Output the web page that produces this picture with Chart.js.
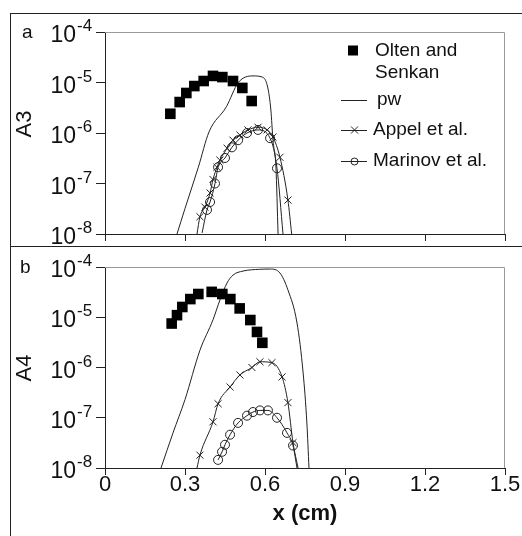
<!DOCTYPE html>
<html>
<head>
<meta charset="utf-8">
<script src="https://cdn.jsdelivr.net/npm/chart.js@4.4.1/dist/chart.umd.min.js"></script>
<style>
  html, body { margin: 0; padding: 0; background: #fff; }
  #frame { position: absolute; left: 10px; top: 13px; width: 511px; height: 523px;
           border-left: 1px solid #222; border-top: 1px solid #222; }
  #divider { position: absolute; left: 10px; top: 246px; width: 512px; height: 1px; background: #222; }
  .box { position: absolute; left: 11px; width: 511px; }
  #boxA { top: 14px; height: 232px; }
  #boxB { top: 247px; height: 289px; }
</style>
</head>
<body>
<div id="frame"></div>
<div id="divider"></div>
<div class="box" id="boxA"><canvas id="chartA"></canvas></div>
<div class="box" id="boxB"><canvas id="chartB"></canvas></div>
<script>
// panel a : A3
const xOltenA = [0.245, 0.28, 0.305, 0.335, 0.37, 0.405, 0.44, 0.48, 0.515, 0.55];
const yOltenA = [2.4e-6, 4.1e-6, 6.2e-6, 8.5e-6, 1.07e-5, 1.35e-5, 1.28e-5, 1.07e-5, 7.8e-6, 4.3e-6];
const xPwA = [0.27, 0.30, 0.35, 0.39, 0.455, 0.50, 0.555, 0.59, 0.61, 0.622, 0.63, 0.641, 0.649];
const yPwA = [1e-8, 3.2e-8, 2.1e-7, 1.05e-6, 3.3e-6, 1.0e-5, 1.35e-5, 1.28e-5, 8.1e-6, 2.85e-6, 7.2e-7, 2.1e-7, 1e-8];
const xAppelA = [0.345, 0.356, 0.375, 0.394, 0.405, 0.42, 0.431, 0.458, 0.48, 0.506, 0.536, 0.574, 0.608, 0.63, 0.656, 0.686, 0.70];
const yAppelA = [1e-8, 2.2e-8, 3.4e-8, 6.5e-8, 1.2e-7, 2.1e-7, 2.9e-7, 5.0e-7, 7.2e-7, 9.1e-7, 1.15e-6, 1.3e-6, 1.15e-6, 8.3e-7, 3.3e-7, 4.7e-8, 1e-8];
const xMarinovA = [0.364, 0.3825, 0.394, 0.4125, 0.424, 0.45, 0.476, 0.499, 0.5325, 0.574, 0.619, 0.645, 0.6675];
const yMarinovA = [1.05e-8, 3.0e-8, 4.3e-8, 1.0e-7, 2.1e-7, 3.2e-7, 5.2e-7, 7.2e-7, 1.0e-6, 1.15e-6, 7.9e-7, 2.0e-7, 1e-8];

// panel b : A4
const xOltenB = [0.25, 0.27, 0.29, 0.32, 0.35, 0.40, 0.44, 0.47, 0.505, 0.545, 0.57, 0.59];
const yOltenB = [7.5e-6, 1.1e-5, 1.6e-5, 2.3e-5, 2.9e-5, 3.2e-5, 2.9e-5, 2.3e-5, 1.5e-5, 8.8e-6, 5.1e-6, 3.1e-6];
const xPwB = [0.21, 0.255, 0.30, 0.356, 0.405, 0.431, 0.4575, 0.48, 0.5175, 0.58, 0.62, 0.656, 0.686, 0.72, 0.743, 0.757, 0.765];
const yPwB = [1e-8, 5e-8, 2.3e-7, 2.2e-6, 8.9e-6, 2.2e-5, 4.8e-5, 6.9e-5, 8.3e-5, 9e-5, 9.1e-5, 7.6e-5, 3.5e-5, 7.7e-6, 7.8e-7, 7.9e-8, 1e-8];
const xAppelB = [0.345, 0.356, 0.405, 0.424, 0.469, 0.506, 0.551, 0.581, 0.626, 0.664, 0.686, 0.705, 0.724];
const yAppelB = [1e-8, 1.8e-8, 8.3e-8, 1.9e-7, 4.1e-7, 7.1e-7, 1.0e-6, 1.3e-6, 1.25e-6, 6.5e-7, 2.0e-7, 3.2e-8, 1e-8];
const xMarinovB = [0.424, 0.439, 0.45, 0.469, 0.499, 0.5325, 0.555, 0.581, 0.611, 0.645, 0.6825, 0.705, 0.72];
const yMarinovB = [1.45e-8, 2.1e-8, 2.9e-8, 4.6e-8, 7.9e-8, 1.1e-7, 1.3e-7, 1.4e-7, 1.4e-7, 1.0e-7, 5e-8, 2.8e-8, 1e-8];

const yTicks = [1e-8, 1e-7, 1e-6, 1e-5, 1e-4];
const yExponents = ['-8', '-7', '-6', '-5', '-4'];
const xTicks = [0, 0.3, 0.6, 0.9, 1.2, 1.5];
const xTickLabels = ['0', '0.3', '0.6', '0.9', '1.2', '1.5'];
const seriesNames = ['Olten and Senkan', 'pw', 'Appel et al.', 'Marinov et al.'];
const legendLines = [['Olten and', 'Senkan'], ['pw'], ['Appel et al.'], ['Marinov et al.']];

const FONT = '"Liberation Sans", Arial, sans-serif';
const INK = '#222';
Chart.defaults.font.family = FONT;
Chart.defaults.color = '#111';

function pts(xs, ys) {
  return xs.map((x, i) => ({ x: x, y: ys[i] }));
}
// no marker where a curve runs into the axis
const edgeRadius = (r) => (c) => (c.raw && c.raw.y <= 1.05e-8 ? 0 : r);

function makeDatasets(xo, yo, xp, yp, xa, ya, xm, ym) {
  return [
    { label: seriesNames[0], data: pts(xo, yo), showLine: false, pointStyle: 'rect',
      pointRadius: 7.5, backgroundColor: '#000', borderWidth: 0 },
    { label: seriesNames[1], data: pts(xp, yp), showLine: true, borderColor: INK, borderWidth: 1,
      pointRadius: 0, cubicInterpolationMode: 'monotone' },
    { label: seriesNames[2], data: pts(xa, ya), showLine: true, borderColor: INK, borderWidth: 1,
      pointStyle: 'crossRot', pointRadius: edgeRadius(5), pointBorderWidth: 1,
      pointBorderColor: INK, cubicInterpolationMode: 'monotone' },
    { label: seriesNames[3], data: pts(xm, ym), showLine: true, borderColor: INK, borderWidth: 1,
      pointStyle: 'circle', pointRadius: edgeRadius(4.5), pointBorderWidth: 1,
      pointBorderColor: INK, pointBackgroundColor: 'rgba(0,0,0,0)', cubicInterpolationMode: 'monotone' }
  ];
}

const deco = {
  id: 'deco',
  beforeDatasetsDraw(chart) {
    const { ctx, chartArea: a } = chart;
    ctx.save();
    ctx.strokeStyle = '#9a9a9a';
    ctx.lineWidth = 1;
    ctx.beginPath();
    ctx.moveTo(a.left, a.top + 0.5);
    ctx.lineTo(a.right - 0.5, a.top + 0.5);
    ctx.lineTo(a.right - 0.5, a.bottom);
    ctx.stroke();
    ctx.restore();
  },
  afterDraw(chart, args, opts) {
    const ctx = chart.ctx;
    const ys = chart.scales.y;
    ctx.save();
    ctx.fillStyle = '#111';
    ctx.textBaseline = 'alphabetic';
    yTicks.forEach((v, i) => {
      const py = ys.getPixelForValue(v);
      ctx.font = '23px ' + FONT;
      ctx.textAlign = 'right';
      ctx.fillText('10', ys.right - 29, py + 10);
      ctx.font = '17px ' + FONT;
      ctx.textAlign = 'left';
      ctx.fillText(yExponents[i], ys.right - 28, py - 1);
    });
    // y title
    ctx.save();
    ctx.font = '22px ' + FONT;
    ctx.translate(14, opts.titleY);
    ctx.rotate(-Math.PI / 2);
    ctx.textAlign = 'center';
    ctx.textBaseline = 'middle';
    ctx.fillText(opts.yTitle, 0, 0);
    ctx.restore();
    // panel letter
    ctx.font = '19px ' + FONT;
    ctx.textAlign = 'left';
    ctx.fillText(opts.panel, opts.panelX, opts.panelY);

    if (opts.legend) {
      const rows = [36.5, 86, 116, 147];
      const ds = chart.data.datasets;
      ctx.font = '19px ' + FONT;
      ctx.textBaseline = 'middle';
      ctx.strokeStyle = INK;
      ctx.lineWidth = 1;
      rows.forEach((ry, i) => {
        const tx = i === 0 ? 364 : (i === 1 ? 366 : 362);
        legendLines[i].forEach((t, k) => ctx.fillText(t, tx, ry + k * 22));
        if (i === 0) {
          ctx.fillStyle = ds[0].backgroundColor;
          ctx.fillRect(337, ry - 5, 10, 10);
          ctx.fillStyle = '#111';
          return;
        }
        ctx.beginPath();
        ctx.moveTo(330, ry + 0.5);
        ctx.lineTo(356, ry + 0.5);
        ctx.stroke();
        if (i === 2) {
          ctx.beginPath();
          ctx.moveTo(340, ry - 3.5); ctx.lineTo(347, ry + 3.5);
          ctx.moveTo(347, ry - 3.5); ctx.lineTo(340, ry + 3.5);
          ctx.stroke();
        } else if (i === 3) {
          ctx.beginPath();
          ctx.arc(343.5, ry + 0.5, 3.5, 0, Math.PI * 2);
          ctx.stroke();
        }
      });
    }
    ctx.restore();
  }
};

function makeChart(id, datasets, showX, padTop, xHeight, decoOpts) {
  return new Chart(document.getElementById(id), {
    type: 'scatter',
    data: { datasets: datasets },
    plugins: [deco],
    options: {
      responsive: true,
      maintainAspectRatio: false,
      animation: false,
      layout: { padding: { top: padTop, right: 17, left: 0, bottom: 0 } },
      plugins: { legend: { display: false }, tooltip: { enabled: false }, deco: decoOpts },
      scales: {
        x: {
          type: 'linear', min: 0, max: 1.5,
          afterBuildTicks: (s) => { s.ticks = xTicks.map((v) => ({ value: v })); },
          afterFit: (s) => { s.height = xHeight; },
          grid: { drawOnChartArea: false, drawTicks: true, tickLength: 7, color: INK },
          border: { color: INK, width: 1 },
          ticks: { display: showX, font: { size: 22 }, color: '#111', padding: -3, maxRotation: 0,
                   callback: (v, i) => xTickLabels[i] },
          title: { display: showX, text: 'x (cm)', font: { size: 22, weight: 'bold' }, color: '#111',
                   padding: { top: 0, bottom: 9 } }
        },
        y: {
          type: 'logarithmic', min: 1e-8, max: 1e-4,
          afterBuildTicks: (s) => { s.ticks = yTicks.map((v) => ({ value: v })); },
          afterFit: (s) => { s.width = 94; },
          grid: { drawOnChartArea: false, drawTicks: true, tickLength: 9, color: INK },
          border: { color: INK, width: 1 },
          ticks: { display: false }
        }
      }
    }
  });
}

makeChart('chartA',
  makeDatasets(xOltenA, yOltenA, xPwA, yPwA, xAppelA, yAppelA, xMarinovA, yMarinovA),
  false, 18, 12,
  { yTitle: 'A3', titleY: 110, panel: 'a', panelX: 11, panelY: 24, legend: true });

makeChart('chartB',
  makeDatasets(xOltenB, yOltenB, xPwB, yPwB, xAppelB, yAppelB, xMarinovB, yMarinovB),
  true, 20, 68,
  { yTitle: 'A4', titleY: 121, panel: 'b', panelX: 9, panelY: 26, legend: false });
</script>
</body>
</html>
